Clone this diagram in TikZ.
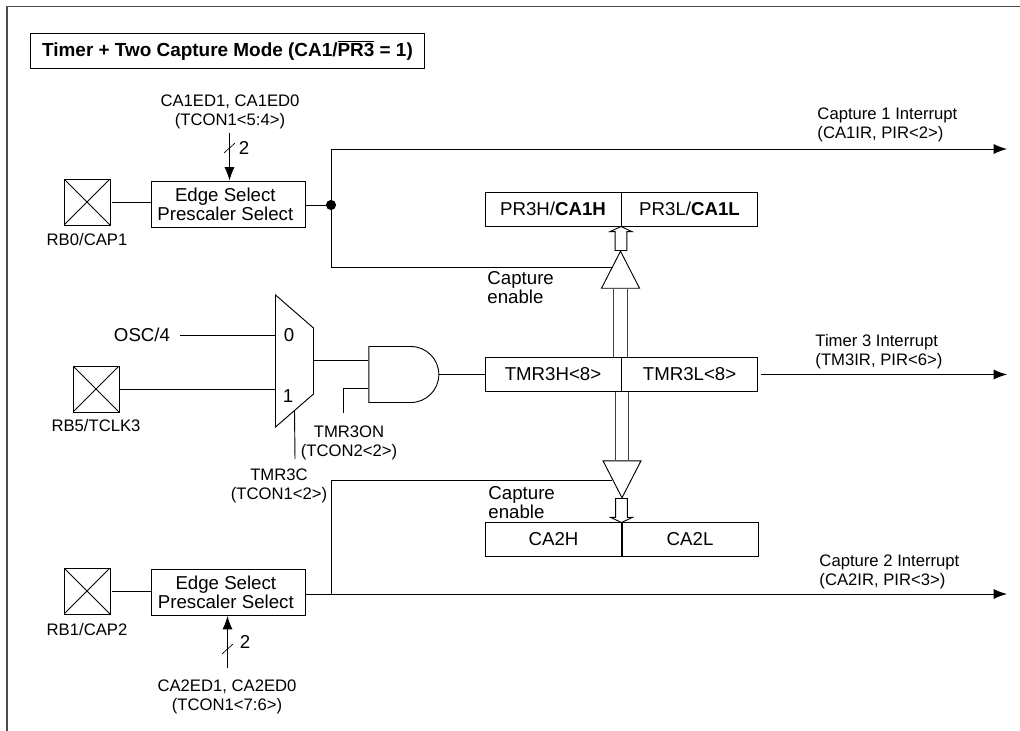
\documentclass[tikz,border=0pt]{standalone}
\usepackage{fontspec}
\setmainfont{Liberation Sans}
\usetikzlibrary{arrows.meta,positioning,calc,shapes.geometric,shapes.gates.logic.US,shapes.arrows}
\begin{document}
\begin{tikzpicture}[x=.75pt,y=-.75pt,>={Latex[length=10pt,width=7.5pt]},line width=.7pt,
box/.style={draw,align=center,inner sep=0,font=\fontsize{14}{14.25}\selectfont},
edgebox/.style={box,minimum width=115.5pt,minimum height=34.5pt},
reg/.style={box,minimum width=102pt,minimum height=25.5pt},
pin/.style={draw,inner sep=0,minimum size=34.5pt,path picture={
\draw (path picture bounding box.north west)--(path picture bounding box.south east);
\draw (path picture bounding box.north east)--(path picture bounding box.south west);}},
lbl/.style={align=center,inner sep=0,font=\fontsize{12.5}{14.3}\selectfont},
big/.style={align=left,inner sep=0,font=\fontsize{14}{14.25}\selectfont},
tri/.style={draw,fill=white,inner sep=1pt,isosceles triangle,isosceles triangle stretches,minimum width=28.5pt,minimum height=27.75pt},
hollow/.style={draw,fill=white,inner sep=1pt,single arrow,single arrow head extend=1.2pt,single arrow tip angle=130,minimum width=16.5pt,minimum height=18pt},
bus/.style={draw=black!75,double=white,double distance=9.3pt,line width=.9pt},
tick/.style={line width=.5pt}]
\useasboundingbox (0,0) rectangle (1020,731);
\draw[draw=black!70,line width=1.1pt] (7,731)--(7,6.5)--(1020,6.5);
\node[draw,minimum width=296pt,minimum height=26.25pt,inner sep=0,font=\fontsize{14.2}{16}\selectfont\bfseries] (title) at (227.5,50.5) {Timer + Two Capture Mode (CA1/$\overline{\mbox{PR3}}$ = 1)};

\node[pin] (pin1) at (87,202) {};
\node[pin] (pin3) at (96,389) {};
\node[pin] (pin2) at (87,591) {};
\node[lbl,below=5.5pt of pin1] (pin1lbl) {RB0/CAP1};
\node[lbl,below=5pt of pin3] (pin3lbl) {RB5/TCLK3};
\node[lbl,below=6pt of pin2] (pin2lbl) {RB1/CAP2};

\node[edgebox] (ed1) at (228,204) {Edge Select\kern4pt\\Prescaler Select\kern4pt};
\node[edgebox] (ed2) at (228.5,592.5) {Edge Select\kern4pt\\Prescaler Select\kern4pt};
\node[lbl] (ed1lbl) at (230,112) {CA1ED1, CA1ED0\\(TCON1<5:4>)};
\node[lbl] (ed2lbl) at (227,697) {CA2ED1, CA2ED0\\(TCON1<7:6>)};
\node[big] (ed1two) at (244,148) {2};
\node[big] (ed2two) at (245,642) {2};
\coordinate (ed1in) at (229.5,133);
\coordinate (ed2in) at (227.5,668);
\draw[->] (ed1in)--(ed1in |- ed1.north);
\draw[->] (ed2in)--(ed2in |- ed2.south);
\draw[tick] ($(ed1in)+(-5.5,20)$)--++(11,-10);
\draw[tick] ($(ed2in)+(-5.5,-14)$)--++(11,-10);
\draw[shorten <=1.5pt] (pin1)--(pin1 -| ed1.west);
\draw[shorten <=1.5pt] (pin2)--(pin2 -| ed2.west);

\node[reg] (pr3h) at (553,209) {PR3H/\textbf{CA1H}};
\node[reg,right=0pt of pr3h,xshift=-.3pt] (pr3l) {PR3L/\textbf{CA1L}};
\node[reg] (tmr3h) at (553,374.5) {TMR3H<8>};
\node[reg,right=0pt of tmr3h,xshift=-.3pt] (tmr3l) {TMR3L<8>};
\node[reg] (ca2h) at (553.5,539.5) {CA2H};
\node[reg,right=0pt of ca2h,xshift=-.3pt] (ca2l) {CA2L};

\node[tri,shape border rotate=90,anchor=apex] (buf1) at (620.5,250) {};
\node[tri,shape border rotate=270,anchor=apex] (buf2) at (622,499) {};
\draw[bus] (buf1.south)--(buf1.south |- tmr3h.north);
\draw[bus] (buf2.north |- tmr3h.south)--(buf2.north);
\node[hollow,shape border rotate=90,anchor=tip] (arr1) at (621,226) {};
\node[hollow,shape border rotate=270,anchor=tip] (arr2) at (621.5,523) {};
\node[big,anchor=north west] (en1) at (487,271) {Capture\\enable};
\node[big,anchor=north west] (en2) at (488,486) {Capture\\enable};

\coordinate (j1) at (331,205);
\coordinate (j2) at (331.5,594);
\coordinate (buf1in) at (612,267);
\coordinate (buf2in) at (612,480);
\coordinate (cap1end) at (1007,149);
\coordinate (cap2end) at (1007,594);
\coordinate (tm3end) at (1007,374.5);
\draw (ed1.east |- j1)--(j1);
\fill (j1) circle (3.8pt);
\draw[->] (j1)|-(cap1end);
\draw (j1)|-(buf1in);
\draw[->] (ed2.east |- j2)--(cap2end);
\draw (j2)|-(buf2in);
\draw[->,shorten <=2pt] (tmr3l.east)--(tm3end);
\node[lbl,anchor=west,align=left] (cap1lbl) at (817,125) {Capture 1 Interrupt\\(CA1IR, PIR<2>)};
\node[lbl,anchor=west,align=left] (tm3lbl) at (815,351.5) {Timer 3 Interrupt\\(TM3IR, PIR<6>)};
\node[lbl,anchor=west,align=left] (cap2lbl) at (819,571.5) {Capture 2 Interrupt\\(CA2IR, PIR<3>)};

\node[draw,inner sep=1pt,trapezium,trapezium stretches,trapezium left angle=63.4,trapezium right angle=63.4,shape border rotate=270,minimum width=99pt,minimum height=28.5pt] (mux) at (294.5,361) {};
\node[big] (mux0) at (289,335) {0};
\node[big] (mux1) at (288,396) {1};
\node[big] (osc) at (142,335) {OSC/4};
\draw (osc.east)++(10,0)--(mux.west |- osc.east);
\draw (pin3)--(pin3 -| mux.west);
\node[draw,and gate US,inner sep=0,logic gate inputs=nn,minimum width=52.5pt,minimum height=41.25pt] (gate) at (401.5,374.5) {};
\coordinate (gatein1) at ($(gate.west)+(0,-13.75)$);
\coordinate (gatein2) at ($(gate.west)+(0,13.75)$);
\draw (mux.east |- gatein1)--(gatein1);
\coordinate (onin) at (343,413);
\draw (onin)|-(gatein2);
\draw (gate.output)--(gate.output -| tmr3h.west);
\node[lbl] (onlbl) at (349,442.5) {TMR3ON\\(TCON2<2>)};
\coordinate (selin) at (295,459);
\draw (mux.south)--(selin);
\node[lbl] (sellbl) at (279,485.5) {TMR3C\\(TCON1<2>)};
\end{tikzpicture}
\end{document}
